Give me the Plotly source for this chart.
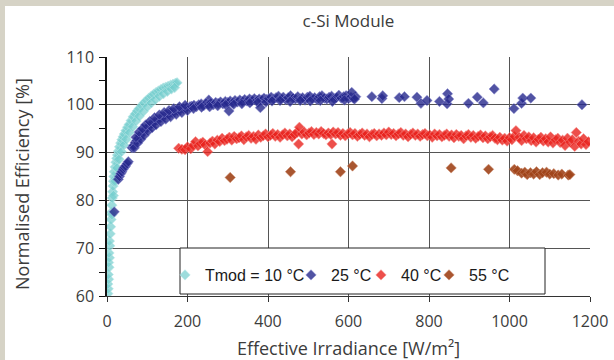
import plotly.graph_objects as go

# ---------------- data ----------------
t10_x = [2, 3, 2, 4, 3, 5, 4, 6, 5, 7, 6, 8, 9, 10, 11, 12, 13, 14, 15, 16, 17, 18, 20, 22, 24, 26, 28, 31, 34, 37,
         40, 43, 47, 51, 55, 60, 65, 70, 75, 80, 86, 92, 98, 104, 110, 116, 122, 128, 134, 140, 146, 152, 158, 164,
         170, 174,
         12, 16, 20, 25, 30, 36, 42, 48, 56, 64, 72, 80, 90, 100, 110, 120, 130, 140, 150, 160, 168]
t10_y = [60.5, 61.5, 62.5, 63.5, 64.5, 66.0, 67.0, 68.0, 69.0, 70.5, 71.5, 73.0, 74.5, 76.0, 77.5, 79.0, 80.5, 81.8,
         83.0, 84.0, 85.0, 86.0, 87.0, 88.0, 88.8, 89.5, 90.3, 91.2, 92.0, 92.7,
         93.3, 93.9, 94.6, 95.3, 95.9, 96.7, 97.5, 98.1, 98.7, 99.2, 99.8, 100.4, 100.9, 101.4, 101.8, 102.2, 102.6,
         102.9, 103.2, 103.5, 103.7, 103.9, 104.1, 104.3, 104.5, 104.6,
         77.0, 81.0, 84.0, 86.8, 88.6, 90.2, 91.6, 92.8, 94.2, 95.4, 96.6, 97.6, 98.6, 99.6, 100.4, 101.1, 101.8,
         102.3, 102.8, 103.3, 103.6]

t25_x = [18, 28, 31, 34, 37, 40, 43, 46, 50, 53,
         62, 66, 70, 74, 78, 82, 86, 90, 95, 100, 105, 110, 115, 120, 126, 132, 138, 144, 150, 156, 162, 168, 175,
         182, 190, 198, 206,
         68, 76, 84, 92, 102, 112, 122, 134, 146, 158, 172, 186, 200,
         72, 80, 88, 96, 106, 118, 130, 142, 154, 166, 180, 194, 253,
         210, 216, 222, 228, 234, 240, 246, 252, 258, 264, 270, 276, 282, 288, 294, 300, 306, 312, 318, 324, 330,
         336, 342, 348, 354, 360, 366, 372, 378, 384, 390, 396,
         215, 235, 255, 275, 295, 303, 315, 335, 355, 375, 381, 395,
         402, 408, 414, 420, 426, 432, 438, 444, 450, 456, 462, 468, 474, 480, 486, 492, 498, 504, 510, 516, 522,
         528, 534, 540, 546, 552, 558, 564, 570, 576, 582, 588, 594, 600, 606, 612, 618,
         410, 430, 455, 480, 505, 530, 560, 590, 608, 615,
         658, 683, 685, 726, 739, 770, 780, 795, 826, 846, 845, 849, 898, 920, 935, 962, 1011, 1030, 1033, 1053, 1180]
t25_y = [77.6, 84.4, 85.0, 85.6, 86.0, 86.5, 86.9, 87.2, 87.7, 88.1,
         91.0, 91.5, 92.1, 92.5, 93.0, 93.5, 93.9, 94.3, 94.8, 95.2, 95.6, 96.0, 96.3, 96.6, 96.9, 97.2, 97.5,
         97.8, 98.0, 98.2, 98.4, 98.6, 98.8, 99.0, 99.2, 99.4, 99.6,
         91.0, 92.0, 92.8, 93.6, 94.5, 95.2, 95.8, 96.5, 97.0, 97.5, 98.0, 98.4, 98.8,
         93.2, 94.3, 95.0, 95.8, 96.5, 97.3, 97.9, 98.4, 98.8, 99.2, 99.6, 99.9, 101.0,
         99.7, 99.9, 99.6, 100.0, 100.2, 99.8, 100.3, 100.1, 100.4, 100.0, 100.5, 100.3, 100.6, 100.2, 100.7,
         100.5, 100.8, 100.4, 100.9, 100.6, 101.0, 100.7, 101.1, 100.8, 101.2, 100.9, 101.3, 100.9, 101.2, 101.0,
         101.4, 101.1,
         99.2, 99.5, 99.6, 99.8, 100.0, 98.7, 100.1, 100.2, 100.4, 100.5, 99.4, 100.6,
         101.3, 101.6, 101.2, 101.5, 101.8, 101.3, 101.6, 101.1, 101.5, 101.9, 101.4, 101.2, 101.7, 101.3, 101.5,
         101.0, 101.6, 101.8, 101.3, 101.5, 101.1, 101.7, 101.9, 101.4, 101.2, 101.6, 101.8, 101.3, 101.5, 102.0,
         101.4, 101.7, 101.9, 101.3, 101.6, 101.4, 101.7,
         100.8, 100.9, 100.7, 100.9, 100.8, 100.9, 100.7, 101.0, 102.6, 101.2,
         101.7, 101.3, 101.9, 101.5, 101.7, 101.6, 100.3, 100.9, 100.7, 102.3, 100.2, 101.2, 100.3, 101.6, 100.4,
         103.3, 99.2, 100.3, 101.4, 101.4, 100.0]

t40_x = [178, 186, 194, 200, 208, 214, 220, 226, 232, 238, 244, 250, 256, 262, 268, 274, 280, 286, 292, 298,
         304, 310, 316, 322, 328, 334, 340, 346, 352, 358, 364, 370, 376, 382, 388, 394, 400, 406, 412, 418, 424,
         430, 436, 442, 448, 454, 460, 466, 472, 478, 476, 484, 490, 496, 502, 508, 514, 520, 526, 532, 538, 544,
         550, 556, 559, 562, 568, 574, 580, 586, 592, 598, 604, 610, 616, 622, 628, 634, 640, 646, 652, 658, 664,
         670, 676, 682, 688, 694, 700, 706, 712, 718, 724, 730, 736, 742, 748, 754, 760, 766, 772, 778, 784, 790,
         796, 802, 808, 814, 820, 826, 832, 838, 844, 850, 856, 862, 868, 874, 880, 886, 892, 898, 904, 910, 916,
         922, 928, 934, 940, 946, 952, 958, 964, 970, 976, 982, 988, 994, 1000, 1006, 1012, 1016, 1024, 1030, 1036,
         1042, 1048, 1054, 1060, 1066, 1072, 1078, 1084, 1090, 1096, 1102, 1108, 1114, 1120, 1126, 1132, 1138,
         1144, 1150, 1156, 1162, 1166, 1172, 1178, 1184, 1190, 1196]
t40_y = [90.9, 90.7, 90.6, 91.2, 90.8, 91.5, 92.3, 91.4, 91.9, 92.2, 91.6, 90.2, 92.0, 92.4, 91.8, 92.6, 92.3,
         93.0, 92.5, 92.8, 93.2, 92.6, 93.4, 92.9, 93.1, 93.5, 92.7, 93.3, 93.6, 93.0, 93.4, 92.8, 93.7, 93.2,
         93.5, 93.9, 93.3, 93.6, 94.0, 93.4, 93.8, 93.2, 93.7, 94.1, 93.5, 93.9, 93.3, 93.8, 94.2, 95.3, 91.8,
         93.9, 94.3, 93.7, 94.1, 94.4, 93.8, 94.2, 93.9, 94.4, 94.0, 93.7, 94.1, 93.8, 91.8, 94.3, 93.9, 94.2,
         93.6, 94.0, 93.5, 93.9, 94.2, 93.7, 94.0, 93.4, 93.8, 94.1, 93.6, 93.9, 93.3, 93.8, 94.0, 93.5, 93.9,
         93.6, 94.1, 93.7, 94.3, 93.8, 94.0, 93.5, 93.9, 94.2, 93.6, 93.9, 93.3, 93.8, 94.1, 93.6, 93.9, 93.4,
         93.8, 94.0, 93.5, 93.7, 93.2, 93.9, 93.5, 93.8, 93.3, 93.6, 93.9, 93.4, 93.7, 93.1, 93.8, 93.4, 93.6,
         92.9, 93.5, 93.8, 93.2, 93.6, 93.0, 93.4, 93.7, 93.1, 93.5, 92.9, 93.3, 93.6, 93.0, 92.7, 93.2, 92.6,
         93.0, 92.4, 93.1, 92.7, 93.4, 94.6, 93.2, 92.5, 93.6, 92.9, 93.3, 92.5, 93.1, 92.2, 92.8, 93.2, 92.4,
         92.9, 92.2, 93.3, 92.0, 92.7, 93.0, 92.1, 92.6, 91.5, 93.0, 92.2, 92.7, 91.3, 94.2, 92.4, 91.8, 92.9,
         91.7, 92.3]

t55_x = [306, 456, 580, 610, 855, 948, 1012, 1020, 1030, 1038, 1044, 1052, 1060, 1067, 1075, 1082, 1092, 1100,
         1110, 1121, 1130, 1146, 1150]
t55_y = [84.8, 86.0, 86.0, 87.2, 86.8, 86.5, 86.5, 86.2, 85.7, 85.9, 85.4, 85.8, 85.5, 86.0, 85.4, 85.8, 85.9,
         85.5, 85.6, 85.3, 85.5, 85.3, 85.4]

series_names = ["Tmod = 10 °C", "25 °C", "40 °C", "55 °C"]
series_colors = ["rgba(115,205,205,0.7)", "rgba(38,40,140,0.8)", "rgba(232,35,30,0.8)", "rgba(160,68,25,0.9)"]
halo_colors = ["rgba(185,232,232,0.55)", "rgba(140,140,210,0.5)", "rgba(248,150,145,0.5)", "rgba(205,140,110,0.5)"]

x_ticks = [0, 200, 400, 600, 800, 1000, 1200]
y_ticks = [60, 70, 80, 90, 100, 110]

TXT = "#3c3c3c"
FONT = "Open Sans"

fig = go.Figure()
data = [(t10_x, t10_y), (t25_x, t25_y), (t40_x, t40_y), (t55_x, t55_y)]
legend_ids = ["legend", "legend2", "legend3", "legend4"]
for i, (xs, ys) in enumerate(data):
    fig.add_trace(go.Scatter(
        x=xs, y=ys, mode="markers", name=series_names[i], legend=legend_ids[i],
        marker=dict(symbol="diamond", size=8, color=series_colors[i],
                    line=dict(width=1, color=halo_colors[i])),
    ))

# helper: pixel -> paper
L, R, T, B, W, H = 107, 24, 57, 64, 614, 360
pw, ph = W - L - R, H - T - B
def px(xp):
    return (xp - L) / pw
def py(yp):
    return (H - B - yp) / ph

beige = "#d6d3c6"
shapes = [
    dict(type="rect", xref="paper", yref="paper", x0=px(-5), x1=px(W + 5), y0=py(6), y1=py(-5),
         fillcolor=beige, line=dict(width=0), layer="below"),
    dict(type="rect", xref="paper", yref="paper", x0=px(-5), x1=px(5), y0=py(H + 5), y1=py(-5),
         fillcolor=beige, line=dict(width=0), layer="below"),
    dict(type="rect", xref="paper", yref="paper", x0=px(180), x1=px(545), y0=py(294), y1=py(248),
         fillcolor="white", line=dict(width=1, color="#222"), layer="above"),
]

legend_text_px = [212, 338, 408, 476]
leg_common = dict(orientation="h", yanchor="middle", xanchor="left", bgcolor="rgba(0,0,0,0)",
                  borderwidth=0, font=dict(family="Liberation Sans, Arial", size=16, color="#1a1a1a"),
                  itemwidth=30)
layout_legends = {}
for i, lid in enumerate(legend_ids):
    layout_legends[lid] = dict(leg_common, x=px(legend_text_px[i] - 47), y=py(275))

fig.update_layout(
    template="none",
    width=W, height=H,
    margin=dict(l=L, r=R, t=T, b=B, pad=0, autoexpand=False),
    paper_bgcolor="white", plot_bgcolor="white",
    font=dict(family=FONT, color=TXT),
    title=dict(text="c-Si Module", x=0.5, xref="paper", xanchor="center", y=1 - 21 / H, yanchor="middle",
               font=dict(family=FONT, size=17, color=TXT)),
    showlegend=True,
    shapes=shapes,
    annotations=[dict(text="Normalised Efficiency [%]", xref="paper", yref="paper", x=px(22), y=py(184),
                      xanchor="center", yanchor="middle", textangle=-90, showarrow=False,
                      font=dict(family=FONT, size=18, color=TXT))],
    xaxis=dict(range=[0, 1200], tickvals=x_ticks, ticks="outside", ticklen=5, tickcolor="#333",
               showline=True, linecolor="#333", linewidth=1, showgrid=True, gridcolor="#555", gridwidth=1,
               zeroline=False, automargin=False, ticklabelstandoff=6,
               tickfont=dict(family=FONT, size=16, color=TXT),
               title=dict(text="Effective Irradiance [W/m²]", font=dict(family=FONT, size=18, color=TXT),
                          standoff=12)),
    yaxis=dict(range=[60, 110], tickvals=y_ticks, ticks="outside", ticklen=6, tickcolor="#111",
               minor=dict(dtick=5, tick0=60, ticks="outside", ticklen=6, tickcolor="#111", showgrid=False),
               showline=True, linecolor="#111", linewidth=1.5, showgrid=True, gridcolor="#555", gridwidth=1,
               zeroline=False, automargin=False, ticklabelstandoff=2,
               tickfont=dict(family=FONT, size=16, color=TXT)),
    yaxis2=dict(range=[60, 110], overlaying="y", anchor="x", side="left", dtick=5, tick0=60,
                ticks="inside", ticklen=5, tickcolor="#111", showticklabels=False, showgrid=False,
                showline=False, zeroline=False, automargin=False),
    **layout_legends,
)

fig.write_html("out.html", config={"displayModeBar": False},
               post_script="document.body.style.margin='0';document.body.style.overflow='hidden';")
